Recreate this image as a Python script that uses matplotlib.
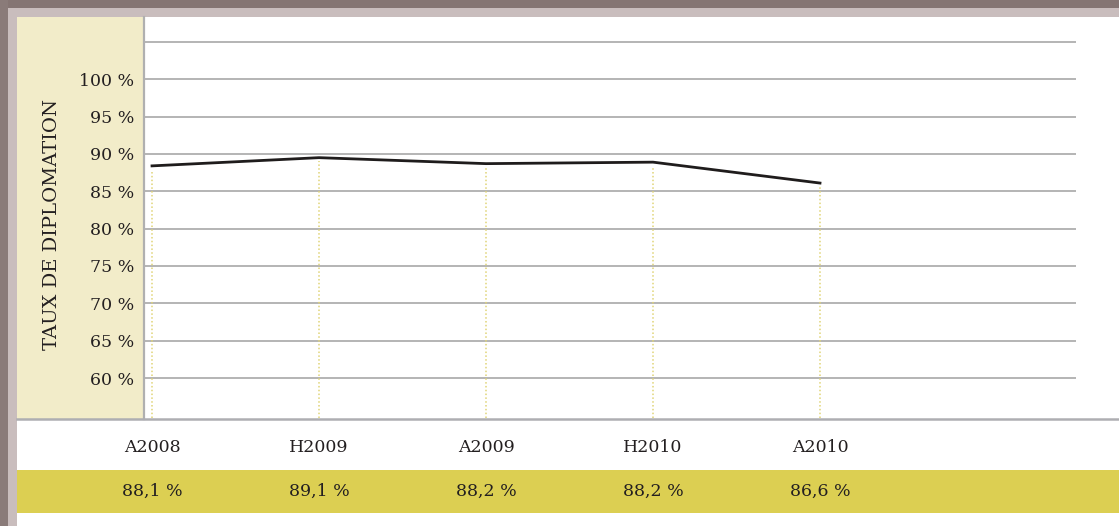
import matplotlib.pyplot as plt
from matplotlib.patches import Rectangle
from matplotlib.lines import Line2D
import matplotlib.transforms as mtransforms

# data
sessions = ["A2008", "H2009", "A2009", "H2010", "A2010"]
line_values = [88.4, 89.5, 88.7, 88.9, 86.1]
table_labels = ["88,1 %", "89,1 %", "88,2 %", "88,2 %", "86,6 %"]
y_ticks = [60, 65, 70, 75, 80, 85, 90, 95, 100, 105]
y_tick_labels = ["60 %", "65 %", "70 %", "75 %", "80 %", "85 %", "90 %", "95 %", "100 %", ""]

W, H = 1119, 526
text_col = "#231f20"
plt.rcParams["font.family"] = ["DejaVu Serif"]


def rect(x0, y0, x1, y1):
    # pixel box (top-left origin) -> figure fraction
    return [x0 / W, 1 - y1 / H, (x1 - x0) / W, (y1 - y0) / H]


fig = plt.figure(figsize=(W / 100, H / 100), dpi=100)
fig.patch.set_facecolor("white")

# frame / background blocks
def add_block(x0, y0, x1, y1, color):
    r = rect(x0, y0, x1, y1)
    fig.patches.append(Rectangle((r[0], r[1]), r[2], r[3], transform=fig.transFigure,
                                 facecolor=color, edgecolor="none", zorder=-10))

add_block(0, 0, W, 8, "#857573")
add_block(0, 0, 8, H, "#8a7b79")
add_block(8, 8, W, 17, "#c9bdbd")
add_block(8, 8, 17, H, "#c9bdbd")
add_block(17, 17, 143, 419, "#f2ecc9")
add_block(17, 470, W, 513, "#dccf52")

# main plot area
ax = fig.add_axes(rect(145, 17, 1076, 418))
ax.set_facecolor("none")
x = list(range(len(sessions)))
ax.plot(x, line_values, color="#1f1c1c", lw=2.0, solid_joinstyle="miter", zorder=3)
ax.vlines(x, 54.65, [v - 0.5 for v in line_values], colors="#e0d476",
          linestyles=(0, (1, 1.5)), lw=1.1, zorder=2)

ax.set_ylim(54.65, 108.33)
ax.set_xlim(-0.042, 5.533)
ax.set_yticks(y_ticks)
ax.set_yticklabels(y_tick_labels, fontsize=12.5, color=text_col)
ax.set_xticks([])
ax.tick_params(axis="y", length=0, pad=8)
ax.grid(axis="y", color="#b4b4b4", lw=1.4)
ax.set_axisbelow(True)
for s in ax.spines.values():
    s.set_visible(False)

# separator lines
fig.lines.append(Line2D([144 / W, 144 / W], [1 - 17 / H, 1 - 419 / H], transform=fig.transFigure,
                        color="#b0b0b0", lw=1.6))
fig.lines.append(Line2D([17 / W, 1], [1 - 419 / H, 1 - 419 / H], transform=fig.transFigure,
                        color="#aeaeb2", lw=1.8))

fig.text(52 / W, 1 - 225 / H, "TAUX DE DIPLOMATION", rotation=90, ha="center", va="center",
         fontsize=14, color=text_col)

# table under the chart
tr = mtransforms.blended_transform_factory(ax.transData, fig.transFigure)
for i, (s, v) in enumerate(zip(sessions, table_labels)):
    ax.text(i, 1 - 447 / H, s, transform=tr, ha="center", va="center", fontsize=12.5,
            color=text_col, clip_on=False)
    ax.text(i, 1 - 491 / H, v, transform=tr, ha="center", va="center", fontsize=12.5,
            color=text_col, clip_on=False)

fig.savefig("out.png", dpi=100)
